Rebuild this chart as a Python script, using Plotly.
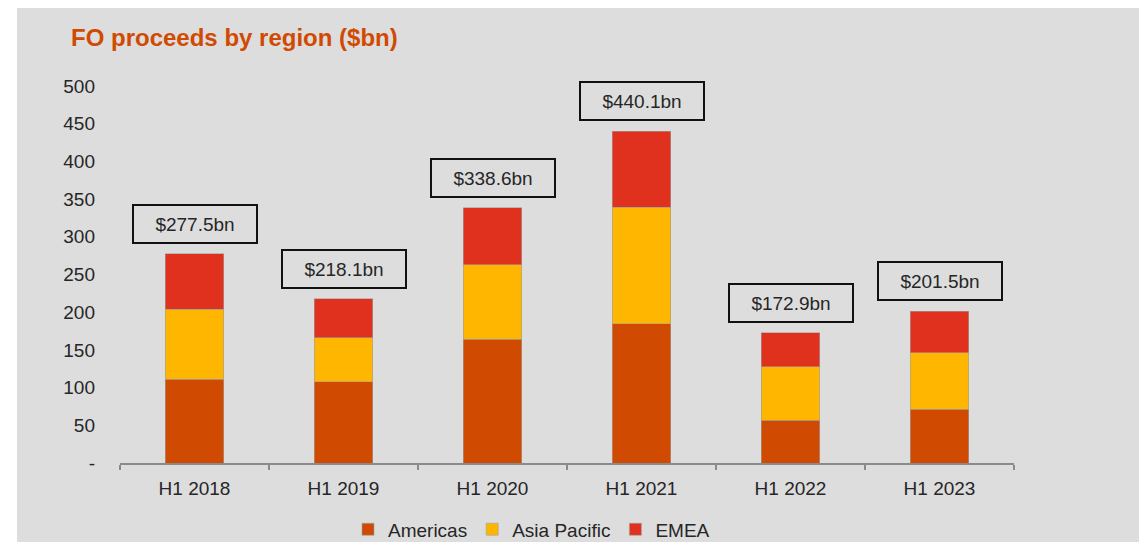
import plotly.graph_objects as go

categories = ["H1 2018", "H1 2019", "H1 2020", "H1 2021", "H1 2022", "H1 2023"]
americas = [111.0, 108.0, 164.0, 185.0, 56.5, 71.0]
asia_pacific = [93.0, 58.0, 99.0, 154.0, 71.0, 75.5]
emea = [73.5, 52.1, 75.6, 101.1, 45.4, 55.0]
totals = [277.5, 218.1, 338.6, 440.1, 172.9, 201.5]
total_labels = ["$277.5bn", "$218.1bn", "$338.6bn", "$440.1bn", "$172.9bn", "$201.5bn"]
y_tickvals = [0, 50, 100, 150, 200, 250, 300, 350, 400, 450, 500]
y_ticktext = ["-", "50", "100", "150", "200", "250", "300", "350", "400", "450", "500"]

FONT = "Arial, Liberation Sans, sans-serif"
# the page body adds an 8px offset, so the figure is 8px smaller than the window
W, H = 1139, 534
L, R, T, B = 112, 133, 78, 78.5
PW, PH = W - L - R, H - T - B

fig = go.Figure()
series = [("Americas", americas, "#D04A02"),
          ("Asia Pacific", asia_pacific, "#FFB600"),
          ("EMEA", emea, "#E0301E")]
for name, vals, col in series:
    fig.add_trace(go.Bar(
        x=categories, y=vals, name=name, width=0.39,
        marker=dict(color=col, line=dict(color="#A0A0A0", width=0.6)),
        hoverinfo="x+y+name",
    ))

for cat, tot, lab in zip(categories, totals, total_labels):
    fig.add_annotation(
        x=cat, y=tot, xref="x", yref="y", text=lab, showarrow=False,
        yanchor="bottom", yshift=10, width=118, height=32,
        bordercolor="#111111", borderwidth=2, borderpad=2,
        font=dict(family=FONT, size=19, color="#262626"),
    )

# white strip on the left edge of the picture
fig.add_shape(type="rect", xref="paper", yref="paper",
              x0=-L / PW - 0.05, x1=(9 - L) / PW,
              y0=-B / PH - 0.05, y1=1 + T / PH + 0.05,
              fillcolor="white", line=dict(width=0), layer="below")

fig.update_layout(
    width=W, height=H,
    margin=dict(l=L, r=R, t=T, b=B, pad=0, autoexpand=False),
    paper_bgcolor="#DDDDDD", plot_bgcolor="#DDDDDD",
    barmode="stack",
    font=dict(family=FONT, size=19, color="#262626"),
    title=dict(text="<b>FO proceeds by region ($bn)</b>", xref="container", yref="container",
               x=63 / W, xanchor="left", y=1 - 30 / H, yanchor="middle",
               font=dict(family=FONT, size=24, color="#D04A02")),
    showlegend=True,
    legend=dict(orientation="h", x=(340 - L) / PW, xanchor="left",
                y=(455.5 - 522) / PH, yanchor="middle",
                itemwidth=30, traceorder="normal", bgcolor="rgba(0,0,0,0)",
                font=dict(family=FONT, size=19, color="#262626"), itemclick=False),
    xaxis=dict(showgrid=False, showline=True, linecolor="#8A8A8A", linewidth=2,
               ticks="outside", tickson="boundaries", ticklen=5, tickwidth=2,
               tickcolor="#8A8A8A", ticklabelstandoff=7, range=[-0.5, 5.5],
               tickfont=dict(family=FONT, size=19, color="#262626")),
    yaxis=dict(showgrid=False, showline=False, zeroline=False, range=[0, 500],
               tickvals=y_tickvals, ticktext=y_ticktext, ticks="",
               ticklabelstandoff=24,
               tickfont=dict(family=FONT, size=19, color="#262626")),
)

fig.write_html("out.html")
